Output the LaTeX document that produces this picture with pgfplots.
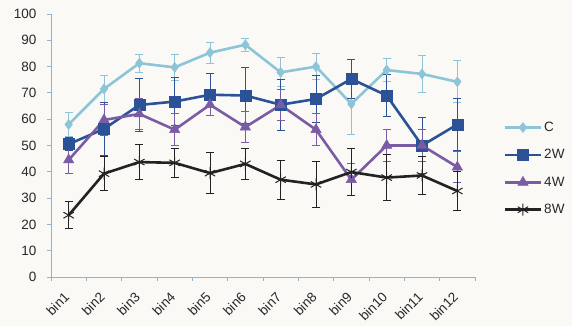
\documentclass[border=0pt]{standalone}
\usepackage{pgfplots}
\pgfplotsset{compat=1.18}
\usepackage{pgfplotstable}
\usepackage{fontspec}
\setmainfont{Liberation Sans}
\definecolor{cC}{RGB}{140,196,216}
\definecolor{c2W}{RGB}{43,82,150}
\definecolor{c4W}{RGB}{122,92,165}
\definecolor{c8W}{RGB}{34,34,34}
\definecolor{axc}{RGB}{150,178,200}
\definecolor{bgc}{RGB}{251,249,246}
\definecolor{txt}{RGB}{40,40,40}

\pgfplotstableread{
x y e
1 58.0 4.5
2 71.5 5.0
3 81.3 3.5
4 79.7 5.0
5 85.3 4.0
6 88.3 2.5
7 77.8 5.5
8 80.0 5.0
9 65.8 11.5
10 78.7 4.5
11 77.2 7.0
12 74.2 8.0
}\tC
\pgfplotstableread{
x y e
1 50.5 2.5
2 56.3 10.0
3 65.4 10.0
4 66.7 9.0
5 69.3 8.0
6 69.0 10.5
7 65.5 9.8
8 67.7 8.8
9 75.3 7.5
10 69.0 8.0
11 50.0 10.7
12 58.0 10.0
}\tTwo
\pgfplotstableread{
x y e
1 44.5 5.0
2 59.7 6.0
3 62.0 6.0
4 56.0 6.0
5 65.5 4.0
6 57.0 6.0
7 65.4 6.0
8 56.0 6.0
9 37.0 6.0
10 50.0 6.0
11 50.0 6.0
12 41.8 6.0
}\tFour
\pgfplotstableread{
x y e
1 23.5 5.1
2 39.3 6.5
3 43.7 6.6
4 43.4 5.4
5 39.5 7.7
6 43.0 5.8
7 37.0 7.5
8 35.2 8.8
9 39.9 9.0
10 37.8 8.7
11 38.6 7.2
12 32.7 7.5
}\tEight

\begin{document}
\begin{tikzpicture}
\fill[bgc] (0,0) rectangle (572pt,326pt);
\useasboundingbox (0,0) rectangle (572pt,326pt);
\begin{axis}[
  at={(51pt,49pt)}, anchor=south west,
  scale only axis, width=424pt, height=263pt,
  xmin=0.5, xmax=12.5, ymin=0, ymax=100,
  axis lines*=left,
  axis line style={axc, line width=0.9pt, -},
  xtick={1,...,12},
  xticklabels={bin1,bin2,bin3,bin4,bin5,bin6,bin7,bin8,bin9,bin10,bin11,bin12},
  major x tick style={draw=none},
  minor xtick={0.5,1.5,...,12.5},
  minor x tick style={axc, line width=0.8pt},
  ytick={0,10,...,100},
  y tick style={axc, line width=0.8pt},
  tick align=outside,
  major tick length=4pt, minor tick length=4pt,
  tick label style={font=\fontsize{13.5}{15}\selectfont, text=txt},
  /pgf/number format/assume math mode=true,
  yticklabel style={xshift=-7pt},
  xticklabel style={yshift=-13pt, xshift=-1pt, rotate=45, anchor=east, inner sep=1pt},
  legend style={at={(1.06,0.605)}, anchor=north west, draw=none, fill=none,
    font=\fontsize{13.5}{15}\selectfont, text=txt, row sep=12.5pt,
    /tikz/every even column/.append style={column sep=0pt}},
  legend cell align=left,
  legend image code/.code={\draw[mark repeat=2,mark phase=2,#1] plot coordinates {(0pt,0pt)(18pt,0pt)(36pt,0pt)};},
  every axis plot/.append style={line width=2.6pt},
  error bars/y dir=both, error bars/y explicit,
  clip=false,
]
\addplot[cC, mark=diamond*, mark size=5pt, mark options={solid, line width=0.5pt},
  error bars/error bar style={line width=0.9pt, cC},
  error bars/error mark options={rotate=90, mark size=4pt, line width=0.9pt, cC}]
  table[x=x, y=y, y error=e] {\tC};
\addlegendentry{C}
\addplot[c2W, mark=square*, mark size=5.5pt, mark options={solid, line width=0.5pt},
  error bars/error bar style={line width=0.9pt, c2W},
  error bars/error mark options={rotate=90, mark size=4pt, line width=0.9pt, c2W}]
  table[x=x, y=y, y error=e] {\tTwo};
\addlegendentry{2W}
\addplot[c4W, mark=triangle*, mark size=6pt, mark options={solid, line width=0.5pt},
  error bars/error bar style={line width=0.9pt, c4W},
  error bars/error mark options={rotate=90, mark size=4pt, line width=0.9pt, c4W}]
  table[x=x, y=y, y error=e] {\tFour};
\addlegendentry{4W}
\addplot[c8W, mark=asterisk, mark size=6pt, mark options={solid, line width=1pt},
  error bars/error bar style={line width=0.9pt, c8W},
  error bars/error mark options={rotate=90, mark size=4pt, line width=0.9pt, c8W}]
  table[x=x, y=y, y error=e] {\tEight};
\addlegendentry{8W}
\end{axis}
\end{tikzpicture}
\end{document}
